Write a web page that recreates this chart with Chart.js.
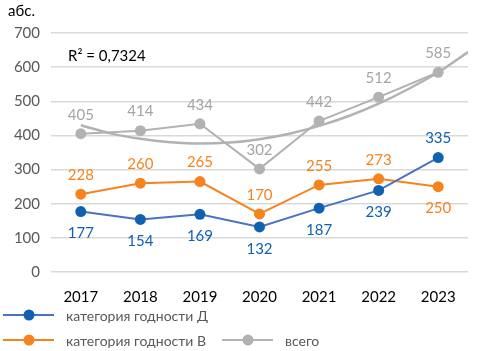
<!DOCTYPE html>
<html>
<head>
<meta charset="utf-8">
<script src="https://cdn.jsdelivr.net/npm/chart.js@4"></script>
<style>
  html, body { margin: 0; padding: 0; background: #fff; }
  #wrap { width: 482px; height: 351px; }
</style>
</head>
<body>
<div id="wrap"><canvas id="chart" width="482" height="351"></canvas></div>
<script>
const FONT = "'Lato', 'DejaVu Sans', sans-serif";

const years = [2017, 2018, 2019, 2020, 2021, 2022, 2023];
const catD = [177, 154, 169, 132, 187, 239, 335];
const catB = [228, 260, 265, 170, 255, 273, 250];
const total = [405, 414, 434, 302, 442, 512, 585];

// trendline (polynomial)
const trendX = [2017, 2017.5, 2018, 2018.5, 2019, 2019.5, 2020, 2020.5, 2021, 2021.5, 2022, 2022.5, 2023, 2023.5];
const trendY = [430, 406, 390, 380, 376, 379, 389, 405, 428, 457, 493, 536, 585, 644];

const yTicks = [0, 100, 200, 300, 400, 500, 600, 700];
const r2Text = 'R² = 0,7324';
const unitText = 'абс.';

const BLUE = '#1061b0';
const BLUE_LINE = '#4a72c2';
const ORANGE = '#f5841f';
const GRAY = '#b2b2b2';
const GRAY_LABEL = '#a5a5a5';

// label position per point: 'above' / 'below'
const posD = ['below', 'below', 'below', 'below', 'below', 'below', 'above'];
const posB = ['above', 'above', 'above', 'above', 'above', 'above', 'below'];
const posTotal = ['above', 'above', 'above', 'above', 'above', 'above', 'above'];

function toXY(vals) {
  return vals.map((v, i) => ({ x: years[i], y: v }));
}

const labelPlugin = {
  id: 'pointLabels',
  afterDatasetsDraw(chart) {
    const ctx = chart.ctx;
    ctx.save();
    ctx.font = '15px ' + FONT;
    ctx.textAlign = 'center';
    ctx.textBaseline = 'middle';
    chart.data.datasets.forEach((ds, di) => {
      if (!ds.labelPos) return;
      const meta = chart.getDatasetMeta(di);
      meta.data.forEach((pt, i) => {
        const dy = ds.labelPos[i] === 'above' ? -19 : 22;
        ctx.fillStyle = ds.labelColor;
        ctx.fillText(String(ds.data[i].y), pt.x, pt.y + dy);
      });
    });

    // unit and R²
    ctx.fillStyle = '#000';
    ctx.textAlign = 'left';
    ctx.font = '15px ' + FONT;
    ctx.fillText(unitText, 8, 11);
    ctx.fillText(r2Text, 68, 56);

    // legend
    const items = [
      { text: 'категория годности Д', color: BLUE_LINE, marker: BLUE, x: 3, y: 315 },
      { text: 'категория годности В', color: ORANGE, marker: ORANGE, x: 3, y: 340 },
      { text: 'всего', color: GRAY, marker: GRAY, x: 222, y: 340 }
    ];
    items.forEach(it => {
      ctx.strokeStyle = it.color;
      ctx.lineWidth = 2;
      ctx.beginPath();
      ctx.moveTo(it.x, it.y);
      ctx.lineTo(it.x + 51, it.y);
      ctx.stroke();
      ctx.fillStyle = it.marker;
      ctx.beginPath();
      ctx.arc(it.x + 26, it.y, 5.5, 0, Math.PI * 2);
      ctx.fill();
      ctx.fillStyle = '#595959';
      ctx.font = '14px ' + FONT;
      ctx.fillText(it.text, it.x + 63, it.y + 1);
    });
    ctx.restore();
  }
};

const ctx = document.getElementById('chart').getContext('2d');
const chart = new Chart(ctx, {
  type: 'line',
  data: {
    datasets: [
      {
        label: 'тренд',
        data: trendX.map((x, i) => ({ x: x, y: trendY[i] })),
        borderColor: GRAY,
        borderWidth: 2.5,
        pointRadius: 0,
        cubicInterpolationMode: 'monotone',
        fill: false,
        order: 3
      },
      {
        label: 'всего',
        data: toXY(total),
        borderColor: GRAY,
        backgroundColor: GRAY,
        borderWidth: 2,
        pointRadius: 5.5,
        pointBorderWidth: 0,
        tension: 0,
        labelPos: posTotal,
        labelColor: GRAY_LABEL,
        order: 2
      },
      {
        label: 'категория годности В',
        data: toXY(catB),
        borderColor: ORANGE,
        backgroundColor: ORANGE,
        borderWidth: 2,
        pointRadius: 5.5,
        pointBorderWidth: 0,
        tension: 0,
        labelPos: posB,
        labelColor: ORANGE,
        order: 1
      },
      {
        label: 'категория годности Д',
        data: toXY(catD),
        borderColor: BLUE_LINE,
        backgroundColor: BLUE,
        borderWidth: 2,
        pointRadius: 5.5,
        pointBorderWidth: 0,
        tension: 0,
        labelPos: posD,
        labelColor: BLUE,
        order: 0
      }
    ]
  },
  options: {
    responsive: false,
    animation: false,
    layout: { padding: { top: 33, right: 14, left: 0, bottom: 0 } },
    plugins: {
      legend: { display: false },
      tooltip: { enabled: false }
    },
    scales: {
      x: {
        type: 'linear',
        min: 2016.5,
        max: 2023.5,
        afterBuildTicks(scale) {
          scale.ticks = years.map(v => ({ value: v }));
        },
        afterFit(scale) { scale.height = 79; },
        grid: { display: false },
        border: { display: false },
        ticks: {
          color: '#000',
          font: { family: FONT, size: 15 },
          padding: 8,
          callback: v => String(v)
        }
      },
      y: {
        min: 0,
        max: 700,
        afterBuildTicks(scale) {
          scale.ticks = yTicks.map(v => ({ value: v }));
        },
        afterFit(scale) { scale.width = 51; },
        grid: { color: '#d9d9d9', lineWidth: 1.5, drawTicks: false },
        border: { display: false },
        ticks: {
          color: '#595959',
          font: { family: FONT, size: 15 },
          padding: 11
        }
      }
    }
  },
  plugins: [labelPlugin]
});
</script>
</body>
</html>
